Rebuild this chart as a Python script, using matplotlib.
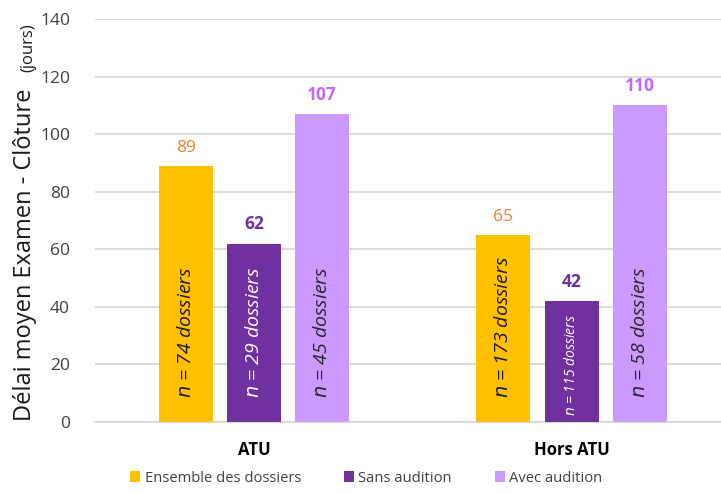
import matplotlib
matplotlib.use("Agg")
import matplotlib.pyplot as plt
import numpy as np

plt.rcParams['font.family'] = ['Open Sans', 'DejaVu Sans']

# data
groups = ["ATU", "Hors ATU"]
series = ["Ensemble des dossiers", "Sans audition", "Avec audition"]
values = [[89, 65], [62, 42], [107, 110]]
counts = [[74, 173], [29, 115], [45, 58]]

bar_colors = ['#FFC000', '#7030A0', '#CC99FF']
label_colors = ['#ED7D31', '#7030A0', '#C266FF']
label_weights = ['normal', 'bold', 'bold']
inner_colors = ['#1a1a1a', 'white', '#262626']

fig = plt.figure(figsize=(7.21, 4.93), dpi=100)
ax = fig.add_axes([0.1318, 0.144, 0.868, 0.8174])

x = np.arange(len(groups))
width = 0.170
step = 0.215

for i, name in enumerate(series):
    xs = x + (i - 1) * step
    ax.bar(xs, values[i], width, color=bar_colors[i], label=name, zorder=3)
    for j, xv in enumerate(xs):
        ax.text(xv, values[i][j] + 3.5, str(values[i][j]), ha='center', va='bottom',
                fontsize=12.5, color=label_colors[i], fontweight=label_weights[i])
        small = counts[i][j] >= 100 and i == 1
        ax.text(xv, 2 if small else 8.5, f"$n$ = {counts[i][j]} dossiers", rotation=90,
                ha='center', va='bottom', fontsize=10 if small else 14, style='italic',
                color=inner_colors[i], zorder=4)

ax.set_ylim(0, 140)
ax.set_xlim(-0.5, 1.47)
ax.set_yticks(range(0, 141, 20))
ax.yaxis.grid(True, color='#D9D9D9', linewidth=1.3, zorder=0)
ax.set_axisbelow(True)
for s in ['top', 'right', 'left']:
    ax.spines[s].set_visible(False)
ax.spines['bottom'].set_color('#D9D9D9')
ax.spines['bottom'].set_linewidth(1.3)
ax.tick_params(axis='both', length=0, labelsize=12.5, colors='#404040')
ax.tick_params(axis='y', pad=18)
ax.set_xticks(x)
ax.set_xticklabels(groups, fontweight='bold', fontsize=12, color='black')
ax.tick_params(axis='x', pad=14)

fig.text(0.034, 0.147, "Délai moyen Examen - Clôture", rotation=90, fontsize=17,
         ha='center', va='bottom', color='#1a1a1a')
fig.text(0.040, 0.953, "(jours)", rotation=90, fontsize=12,
         ha='center', va='top', color='#1a1a1a')

fig.legend(loc='lower center', bbox_to_anchor=(0.508, -0.012), ncol=3, frameon=False,
           fontsize=10.6, handlelength=0.7, handleheight=0.7, handletextpad=0.3,
           columnspacing=2.9, labelcolor='#404040')

fig.savefig("out.png", dpi=100)
